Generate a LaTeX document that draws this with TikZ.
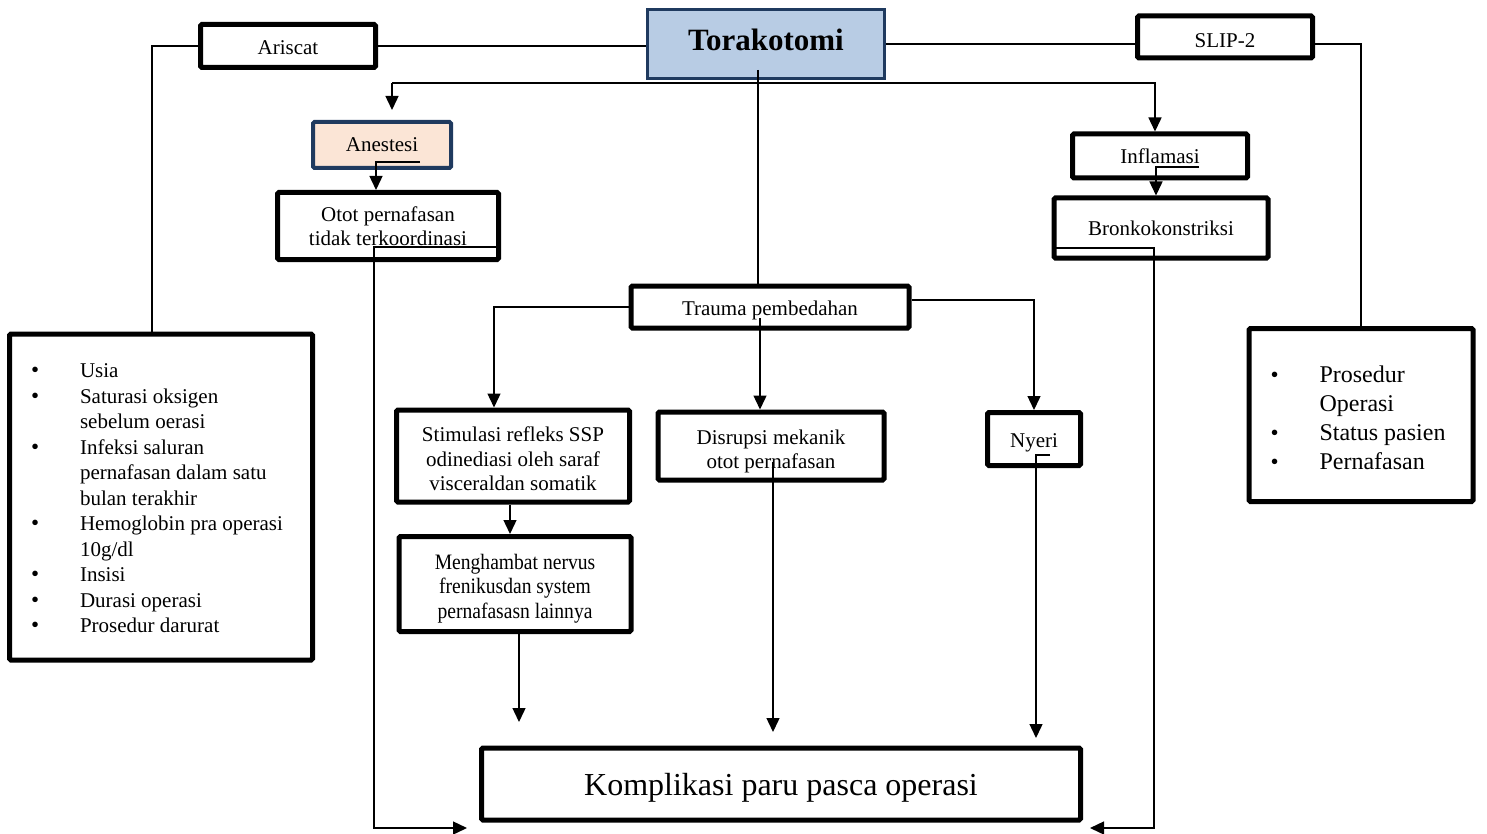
\documentclass[tikz,border=0pt]{standalone}
\usepackage{fontspec}
\setmainfont{Liberation Serif}
\newfontfamily\narrowfont[FakeStretch=0.89]{Liberation Serif}
\usetikzlibrary{arrows.meta}
\definecolor{navy}{HTML}{1F3A5F}
\definecolor{torafill}{HTML}{B8CCE4}
\definecolor{anesfill}{HTML}{FBE5D6}
\newcommand{\bul}{{\fontsize{23}{20}\selectfont\textbullet}}
\newcommand{\topstrut}[1]{\rule{0pt}{#1}}
\begin{document}
\begin{tikzpicture}[x=1pt,y=-1pt,
  box/.style={draw, line width=5pt, rounded corners=1.5pt, inner sep=0pt, align=center,
              font=\fontsize{21}{24.5}\selectfont},
  conn/.style={line width=1.4pt},
  arr/.style={conn,-{Triangle[length=14pt,width=13pt]}}]
\useasboundingbox (0,0) rectangle (1487,834);

% nodes
\node[box, minimum width=175, minimum height=43, text height=18pt] (ariscat) at (288,46) {Ariscat};
\node[draw=navy, line width=3pt, fill=torafill, minimum width=237, minimum height=69, inner sep=0pt,
      text depth=8pt, font=\fontsize{31}{34}\selectfont\bfseries] (tora) at (766,44) {Torakotomi};
\node[box, minimum width=175, minimum height=42, text height=22pt] (slip) at (1225,37) {SLIP-2};
\node[box, draw=navy, fill=anesfill, line width=4pt, minimum width=138, minimum height=46] (anes) at (382,145) {Anestesi};
\node[box, minimum width=221, minimum height=67] (otot) at (388,226) {Otot pernafasan\\tidak terkoordinasi};
\node[box, minimum width=175, minimum height=44] (inflam) at (1160,156) {Inflamasi};
\node[box, minimum width=214, minimum height=60] (bronko) at (1161,228) {Bronkokonstriksi};
\node[box, minimum width=278, minimum height=42, text height=22pt] (trauma) at (770,307) {Trauma pembedahan};
\node[box, minimum width=233, minimum height=92] (stim) at (513,456)
  {\topstrut{21pt}Stimulasi refleks SSP\\odinediasi oleh saraf\\visceraldan somatik};
\node[box, minimum width=226, minimum height=68] (disr) at (771,446)
  {\topstrut{25pt}Disrupsi mekanik\\otot pernafasan};
\node[box, minimum width=93, minimum height=53, text height=22pt] (nyeri) at (1034,439) {Nyeri};
\node[box, minimum width=232, minimum height=95, font=\narrowfont\fontsize{22}{24.5}\selectfont] (meng) at (515,584)
  {\topstrut{24pt}Menghambat nervus\\frenikusdan system\\pernafasasn lainnya};
\node[box, minimum width=599, minimum height=72, text height=30pt, font=\fontsize{32}{36}\selectfont] (komp) at (781,784) {Komplikasi paru pasca operasi};
\node[box, minimum width=303, minimum height=326, font=\fontsize{21}{25.5}\selectfont] (risk) at (161,497)
  {\begin{tabular}{@{}p{49pt}@{}l@{\hspace{8pt}}}
  \topstrut{24pt}\bul & Usia\\
  \bul & Saturasi oksigen\\
   & sebelum oerasi\\
  \bul & Infeksi saluran\\
   & pernafasan dalam satu\\
   & bulan terakhir\\
  \bul & Hemoglobin pra operasi\\
   & 10g/dl\\
  \bul & Insisi\\
  \bul & Durasi operasi\\
  \bul & Prosedur darurat
  \end{tabular}};
\node[box, minimum width=224, minimum height=173, font=\fontsize{24}{29}\selectfont] (cond) at (1361,415)
  {\begin{tabular}{@{}p{49pt}@{}l@{\hspace{6pt}}}
  \topstrut{30pt}\bul & Prosedur\\
   & Operasi\\
  \bul & Status pasien\\
  \bul & Pernafasan
  \end{tabular}};

% coordinates
\coordinate (busL) at (392,83);
\coordinate (busR) at (1155,83);
\coordinate (t1) at (758,70);
\coordinate (a1) at (420,162);
\coordinate (o1) at (497,247);
\coordinate (kL) at (467,828);
\coordinate (i1) at (1199,167);
\coordinate (b1) at (1056,248);
\coordinate (kR) at (1090,828);
\coordinate (tr1) at (760,318);
\coordinate (d1) at (773,462);
\coordinate (d2) at (773,732);
\coordinate (m2) at (519,722);
\coordinate (n1) at (1050,455);
\coordinate (n2) at (1036,738);

% connectors
\draw[conn] (ariscat.east) -- (ariscat.east -| tora.west);
\draw[conn] (ariscat.west) -| ([xshift=-9pt]risk.north);
\draw[conn] (tora.east) -- (tora.east -| slip.west);
\draw[conn] (tora.east -| slip.east) -| (cond.north);
\draw[arr] (busL) -- (busR) -- (busR |- inflam.north);
\draw[arr, shorten >=10pt] (busL) -- (busL |- anes.north);
\draw[conn] (t1) -- (t1 |- trauma.north);
\draw[arr] (a1) -| ([xshift=-12pt]otot.north);
\draw[arr] (o1) -- ++(-123,0) |- (kL);
\draw[arr] (i1) -| ([xshift=-5pt]bronko.north);
\draw[arr] (b1) -- ++(98,0) |- (kR);
\draw[arr] (trauma.west) -| ([xshift=-19pt]stim.north);
\draw[arr] (tr1) -- (tr1 |- disr.north);
\draw[arr] ([yshift=7pt]trauma.east) -| (nyeri.north);
\draw[arr] ([xshift=-3pt]stim.south) -- ([xshift=-3pt]stim.south |- meng.north);
\draw[arr] ([xshift=4pt]meng.south) -- (m2);
\draw[arr] (d1) -- (d2);
\draw[arr] (n1) -- ++(-14,0) -- (n2);
\end{tikzpicture}
\end{document}
